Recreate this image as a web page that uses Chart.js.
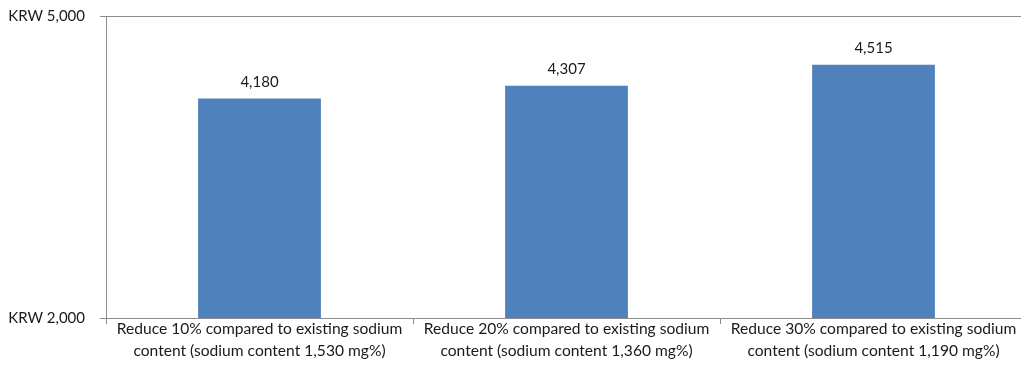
<!DOCTYPE html>
<html>
<head>
<meta charset="utf-8">
<script src="https://cdn.jsdelivr.net/npm/chart.js@4/dist/chart.umd.min.js"></script>
<style>
  html, body { margin: 0; background: #fff; overflow: hidden; }
  #wrap { width: 1028px; height: 374px; }
</style>
</head>
<body>
<div id="wrap"><canvas id="grafico"></canvas></div>
<script>
const categorias = [
  ["Reduce 10% compared to existing sodium", "content (sodium content 1,530 mg%)"],
  ["Reduce 20% compared to existing sodium", "content (sodium content 1,360 mg%)"],
  ["Reduce 30% compared to existing sodium", "content (sodium content 1,190 mg%)"]
];
const precos = [4180, 4307, 4515];
const ticksY = [2000, 5000];

const fonte = "Lato, 'Liberation Sans', sans-serif";

// valor por cima de cada barra + tracinhos entre categorias no eixo x
const rotulos = {
  id: 'rotulos',
  afterDatasetsDraw(chart) {
    const ctx = chart.ctx;
    const meta = chart.getDatasetMeta(0);
    const x = chart.scales.x;
    ctx.save();
    ctx.strokeStyle = '#8c8c8c';
    ctx.lineWidth = 1;
    const passo = (x.right - x.left) / categorias.length;
    for (let i = 0; i <= categorias.length; i++) {
      const px = Math.round(x.left + i * passo) + 0.5;
      ctx.beginPath();
      ctx.moveTo(px, x.top);
      ctx.lineTo(px, x.top + 6);
      ctx.stroke();
    }
    ctx.font = "15px " + fonte;
    ctx.fillStyle = "#1a1a1a";
    ctx.textAlign = "center";
    ctx.textBaseline = "bottom";
    meta.data.forEach((barra, i) => {
      ctx.fillText(precos[i].toLocaleString('en-US'), barra.x, barra.y - 9);
    });
    ctx.restore();
  }
};

new Chart(document.getElementById("grafico"), {
  type: 'bar',
  data: {
    labels: categorias,
    datasets: [{
      data: precos,
      backgroundColor: '#4f81bd',
      barPercentage: 0.4,
      categoryPercentage: 1
    }]
  },
  options: {
    responsive: true,
    maintainAspectRatio: false,
    animation: false,
    layout: { padding: { top: 16, left: 0, right: 1, bottom: 0 } },
    plugins: { legend: { display: false }, tooltip: { enabled: false } },
    scales: {
      x: {
        offset: true,
        afterFit: axis => { axis.height = 56; axis.paddingLeft = 0; axis.paddingRight = 0; },
        grid: { offset: true, drawOnChartArea: false, drawTicks: false },
        border: { color: '#8c8c8c', width: 1 },
        ticks: {
          font: { family: fonte, size: 15.6, lineHeight: 1.4 },
          color: '#1a1a1a',
          maxRotation: 0,
          autoSkip: false,
          padding: 0
        }
      },
      y: {
        min: 2000,
        max: 5000,
        afterBuildTicks: axis => { axis.ticks = ticksY.map(v => ({ value: v })); },
        afterFit: axis => { axis.width = 106; axis.paddingTop = 0; axis.paddingBottom = 0; },
        grid: { color: '#8c8c8c', tickLength: 6 },
        border: { color: '#8c8c8c', width: 1 },
        ticks: {
          font: { family: fonte, size: 15 },
          color: '#1a1a1a',
          padding: 15,
          callback: v => "KRW " + v.toLocaleString('en-US')
        }
      }
    }
  },
  plugins: [rotulos]
});
</script>
</body>
</html>
